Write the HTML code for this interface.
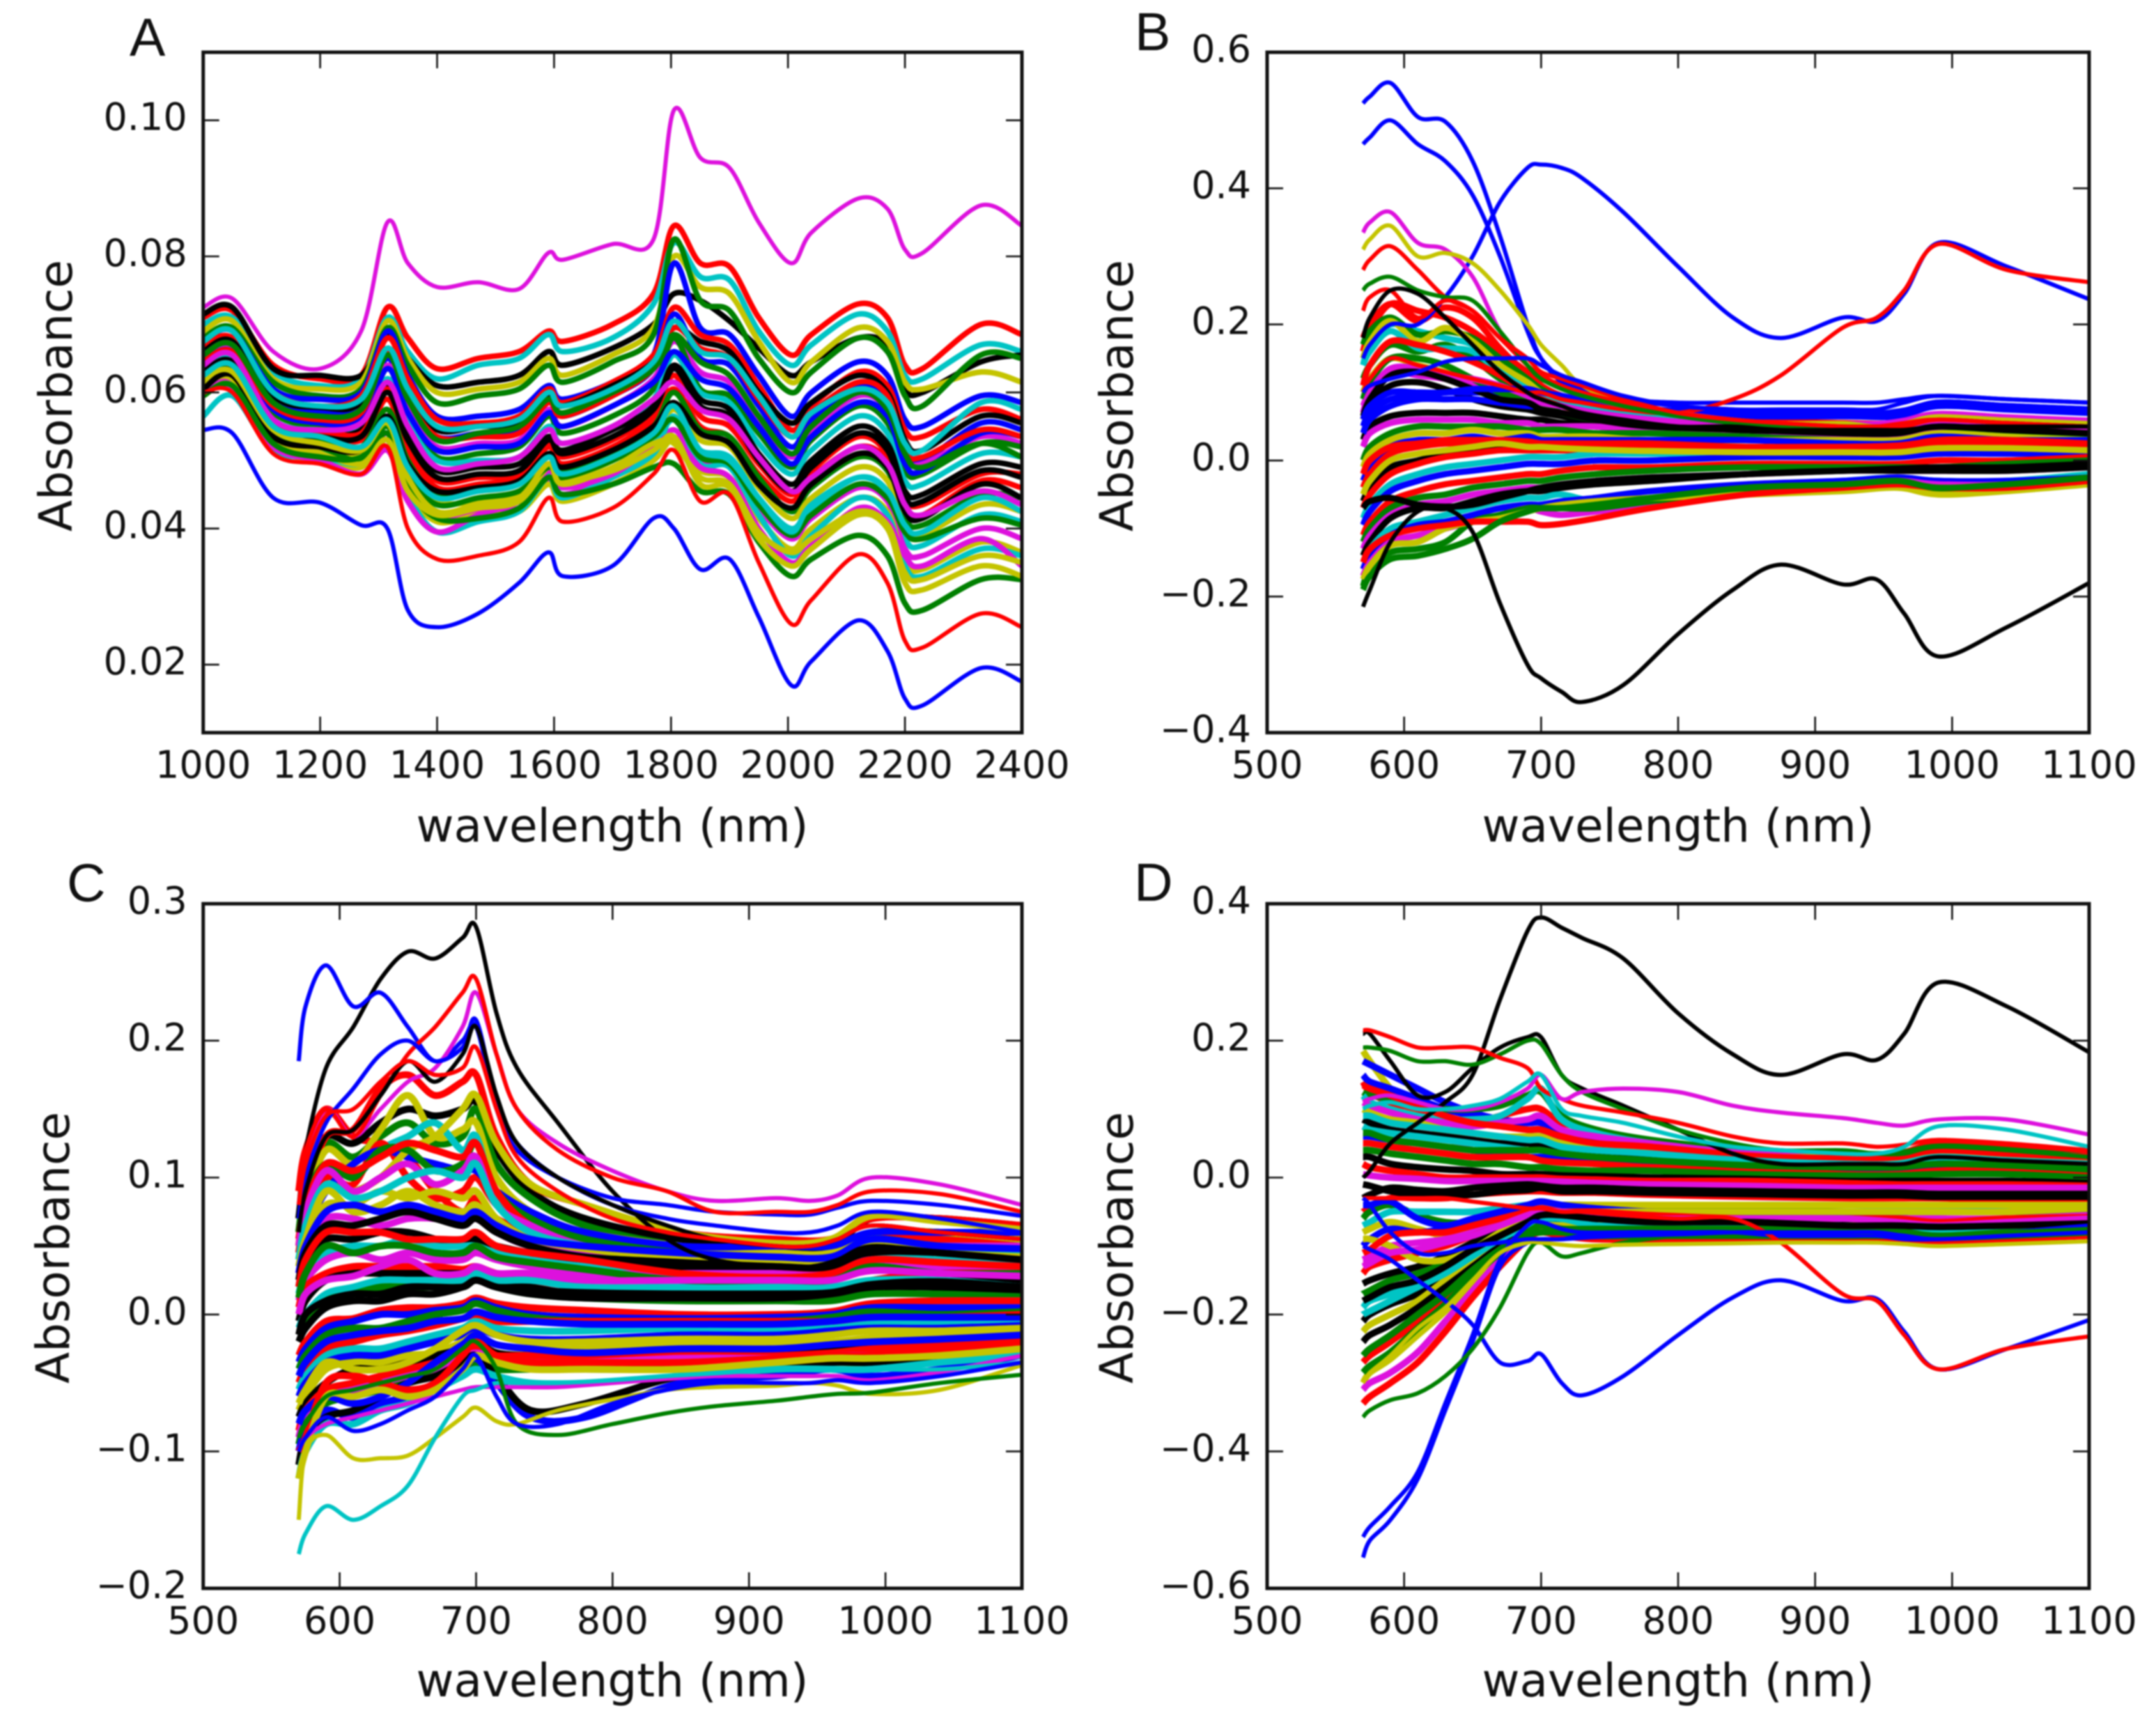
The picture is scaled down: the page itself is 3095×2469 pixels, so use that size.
<!DOCTYPE html>
<html lang="en">
<head>
<meta charset="utf-8">
<title>Absorbance spectra panels A-D</title>
<style>
html,body{margin:0;padding:0;background:#fff;}
#figure{display:block;filter:blur(1.1px);}
text{font-family:"DejaVu Sans","Liberation Sans",sans-serif;fill:#111;}
.panel-letter{font-family:"Liberation Sans",sans-serif;font-size:77px;}
.axis-title{font-size:66px;}
.tick-label{font-size:54px;}
</style>
</head>
<body>
<svg id="figure" xmlns="http://www.w3.org/2000/svg" width="3095" height="2469" viewBox="0 0 3095 2469">
<rect x="0" y="0" width="3095" height="2469" fill="#fff"/>
<defs>
<clipPath id="clip-a"><rect x="291.7" y="75" width="1175.3" height="976.7"/></clipPath>
<clipPath id="clip-b"><rect x="1819" y="75" width="1180" height="976.7"/></clipPath>
<clipPath id="clip-c"><rect x="291.7" y="1297.3" width="1175.3" height="982.7"/></clipPath>
<clipPath id="clip-d"><rect x="1819" y="1297.3" width="1180" height="982.7"/></clipPath>
</defs>
<g id="panel-a">
<text class="panel-letter" x="186" y="80">A</text>
<text class="axis-title" x="879" y="1208" text-anchor="middle">wavelength (nm)</text>
<text class="axis-title" transform="translate(103,568) rotate(-90)" text-anchor="middle">Absorbance</text>
</g>
<g id="panel-b">
<text class="panel-letter" x="1629" y="72">B</text>
<text class="axis-title" x="2409" y="1208" text-anchor="middle">wavelength (nm)</text>
<text class="axis-title" transform="translate(1626,568) rotate(-90)" text-anchor="middle">Absorbance</text>
</g>
<g id="panel-c">
<text class="panel-letter" x="96" y="1294">C</text>
<text class="axis-title" x="879" y="2435" text-anchor="middle">wavelength (nm)</text>
<text class="axis-title" transform="translate(99,1791) rotate(-90)" text-anchor="middle">Absorbance</text>
</g>
<g id="panel-d">
<text class="panel-letter" x="1628" y="1293">D</text>
<text class="axis-title" x="2409" y="2435" text-anchor="middle">wavelength (nm)</text>
<text class="axis-title" transform="translate(1626,1791) rotate(-90)" text-anchor="middle">Absorbance</text>
</g>
</svg>
<script>
const aWave=[1000,1050,1120,1200,1270,1315,1350,1400,1470,1540,1590,1615,1700,1770,1805,1850,1900,1950,2005,2040,2120,2170,2200,2230,2330,2400];
const aXTicks=[1000,1200,1400,1600,1800,2000,2200,2400];
const aXLabels=["1000","1200","1400","1600","1800","2000","2200","2400"];
const aYTicks=[0.02,0.04,0.06,0.08,0.10];
const aYLabels=["0.02","0.04","0.06","0.08","0.10"];
const aBundleColors="rckygbrkbmgckrrgycmycmgybkrgkcgymc";
const aBundle=[
[.071,.072,.064,.062,.0625,.0725,.068,.0635,.065,.066,.069,.0675,.070,.0745,.0845,.079,.0785,.071,.0655,.0685,.073,.071,.064,.0635,.070,.0685],
[.070,.071,.063,.061,.062,.071,.066,.062,.064,.065,.0685,.066,.068,.073,.082,.077,.0765,.069,.064,.067,.0715,.069,.0625,.062,.067,.066],
[.0715,.0725,.0635,.0625,.0625,.0685,.065,.061,.0615,.0625,.066,.064,.0665,.070,.0745,.0735,.0705,.0665,.0625,.0645,.068,.067,.0605,.060,.0645,.0655],
[.069,.0705,.062,.0605,.0615,.0705,.065,.060,.0605,.0615,.065,.0625,.0655,.0695,.080,.0755,.0745,.0675,.0615,.0645,.0695,.0675,.0615,.0605,.063,.0615],
[.068,.0695,.0615,.0595,.0605,.0695,.064,.0585,.0595,.0605,.064,.0615,.0645,.0685,.0825,.0735,.072,.065,.060,.063,.068,.066,.0595,.058,.0655,.065],
[.0675,.069,.0605,.059,.060,.069,.0625,.0565,.0565,.0575,.061,.059,.0615,.0655,.079,.0695,.0685,.0625,.0565,.060,.0645,.0625,.056,.055,.0595,.0585],
[.067,.068,.060,.058,.0595,.068,.062,.056,.0555,.0565,.0605,.0585,.0615,.0655,.0725,.0685,.067,.061,.0545,.058,.063,.061,.0545,.0535,.0575,.056],
[.066,.0675,.059,.0575,.0585,.0665,.060,.0545,.055,.0555,.0595,.058,.061,.0645,.0695,.0675,.066,.060,.0555,.0585,.0625,.060,.053,.0515,.0565,.0555],
[.0655,.067,.0585,.057,.0575,.065,.0585,.0535,.054,.0545,.059,.0565,.0595,.0635,.0715,.065,.064,.058,.052,.056,.061,.059,.052,.050,.0555,.0545],
[.065,.0665,.0575,.056,.0565,.064,.0575,.052,.0525,.053,.0575,.055,.058,.062,.0675,.063,.0615,.056,.0505,.0545,.0595,.0575,.0505,.0495,.0535,.0525],
[.064,.0655,.057,.055,.0555,.0635,.0565,.0505,.051,.052,.0565,.054,.0565,.0605,.068,.0605,.0595,.054,.049,.053,.058,.0555,.0485,.048,.0525,.052],
[.0635,.065,.056,.0545,.055,.062,.0555,.050,.050,.0505,.055,.0525,.055,.059,.0655,.060,.0585,.0525,.048,.0515,.0565,.054,.047,.0465,.051,.0505],
[.063,.0645,.0555,.054,.0545,.061,.054,.0485,.049,.0495,.0535,.0515,.0545,.058,.064,.059,.0575,.051,.0465,.050,.055,.0525,.0455,.045,.0495,.049],
[.0625,.064,.055,.0545,.054,.0605,.0525,.047,.0475,.048,.0525,.0505,.053,.057,.0625,.0565,.055,.0495,.045,.0485,.0535,.051,.0445,.0435,.048,.048],
[.062,.0635,.0545,.054,.053,.059,.0515,.046,.0465,.0475,.052,.0495,.052,.056,.0605,.055,.0535,.048,.044,.0475,.052,.050,.043,.042,.047,.046],
[.0615,.063,.054,.053,.052,.0575,.050,.045,.0455,.0465,.0505,.0485,.051,.055,.060,.0545,.0535,.0475,.0425,.046,.0505,.0485,.0415,.0405,.045,.0445],
[.061,.0625,.0535,.0515,.051,.056,.049,.044,.044,.045,.0495,.047,.050,.0535,.0575,.053,.052,.046,.0415,.0445,.049,.047,.040,.039,.0435,.0425],
[.0605,.062,.053,.051,.050,.0555,.048,.0425,.043,.044,.048,.046,.049,.0525,.056,.0515,.0505,.0445,.040,.043,.0475,.0455,.0385,.0375,.042,.041],
[.060,.0615,.0525,.0505,.049,.054,.0465,.042,.0425,.043,.047,.045,.0475,.051,.0545,.050,.049,.043,.0385,.0415,.046,.044,.037,.036,.040,.0385],
[.0595,.061,.052,.050,.049,.053,.0455,.041,.042,.0425,.0465,.044,.0465,.050,.053,.0485,.0475,.0415,.037,.040,.0445,.0425,.035,.034,.038,.0365],
[.0565,.0595,.0515,.0505,.0495,.053,.045,.0395,.041,.0425,.0475,.0445,.0475,.051,.0565,.0495,.049,.042,.036,.039,.0445,.042,.0345,.033,.037,.036],
[.060,.0605,.052,.050,.048,.0515,.044,.0395,.042,.044,.0485,.046,.048,.052,.0535,.049,.0475,.040,.035,.0375,.043,.041,.036,.0345,.0385,.0345],
[.0625,.063,.054,.052,.050,.054,.046,.0415,.0415,.043,.0475,.045,.0465,.049,.0495,.0455,.045,.038,.033,.0355,.039,.036,.029,.028,.0325,.0325],
[.061,.062,.053,.051,.0495,.053,.0455,.042,.043,.044,.049,.047,.0485,.0515,.0535,.0465,.046,.0385,.0345,.037,.042,.040,.032,.031,.0345,.033],
[.0645,.066,.0575,.0555,.056,.0635,.057,.0515,.052,.0525,.057,.055,.058,.0615,.066,.062,.0605,.055,.0495,.0535,.0585,.0565,.0495,.0485,.054,.0535],
[.0625,.064,.055,.0535,.0535,.060,.053,.0475,.048,.0485,.053,.051,.0535,.0575,.0635,.058,.0565,.050,.0455,.049,.054,.0515,.0445,.044,.0485,.0475],
[.0645,.066,.058,.056,.057,.066,.059,.0535,.0535,.054,.0585,.0565,.0595,.0635,.0695,.0665,.065,.059,.0535,.057,.0615,.0595,.0515,.0505,.0545,.0535],
[.0655,.067,.0585,.0565,.0575,.0655,.059,.053,.054,.055,.059,.057,.060,.0635,.0685,.0645,.0625,.0565,.051,.055,.060,.0575,.051,.049,.0525,.0505],
[.0605,.0625,.0535,.052,.0515,.0565,.0495,.0455,.046,.047,.051,.049,.0515,.055,.0585,.054,.0525,.0465,.043,.0465,.051,.049,.0425,.0415,.0465,.0445],
[.0675,.069,.060,.058,.059,.0665,.0605,.055,.055,.056,.060,.058,.0605,.0645,.0705,.066,.065,.0595,.0535,.057,.0605,.0585,.0525,.0515,.0585,.0575],
[.0595,.061,.0525,.0505,.0505,.055,.048,.0435,.0445,.0455,.049,.0475,.050,.0535,.056,.0505,.0495,.0435,.039,.042,.0465,.0445,.0395,.0385,.0415,.0405],
[.062,.063,.0545,.0525,.0515,.0555,.0475,.0425,.0435,.0445,.0495,.0465,.049,.0525,.0525,.0475,.0465,.0395,.0365,.0385,.0425,.0405,.0335,.0325,.036,.035],
[.064,.0655,.056,.0545,.0555,.0615,.055,.049,.0495,.0505,.0545,.0525,.055,.059,.0615,.0575,.056,.0505,.0455,.0475,.052,.0495,.0435,.042,.0455,.0435],
[.0625,.064,.055,.0535,.052,.056,.049,.0445,.0455,.0465,.0505,.048,.0505,.054,.058,.0515,.050,.0445,.0395,.0435,.0475,.0455,.0405,.0395,.0445,.0425]
];
const aOutlierColors="mbr";
const aOutliers=[
[.0725,.0738,.066,.0635,.069,.085,.079,.0755,.0762,.0752,.0805,.0795,.0818,.0825,.1015,.0945,.093,.085,.079,.0835,.0885,.087,.081,.0805,.0875,.0845],
[.0545,.054,.0445,.0438,.0405,.040,.028,.0255,.0275,.032,.0365,.033,.0345,.0415,.040,.034,.0355,.027,.017,.0205,.0265,.022,.015,.014,.0195,.0175],
[.060,.060,.051,.0495,.048,.052,.040,.0355,.036,.038,.0445,.041,.043,.048,.0515,.044,.045,.035,.026,.0295,.0362,.032,.0235,.0225,.0275,.0255]
];

const visWave=[570,575,590,610,630,650,670,690,700,715,740,780,850,920,960,990,1040,1100];
const outWave=[570,575,590,610,630,650,670,690,700,715,730,760,800,840,875,920,945,965,990,1040,1100];
const visXTicks=[500,600,700,800,900,1000,1100];
const visXLabels=["500","600","700","800","900","1000","1100"];

const bYTicks=[-0.4,-0.2,0,0.2,0.4,0.6];
const bYLabels=["\u22120.4","\u22120.2","0.0","0.2","0.4","0.6"];
const bBundleColors="rcgymkbkmgybrkrcbrgmkcbmgyrbrgycrgmkbkgry";
const bBundle=[
[.16,.19,.23,.22,.21,.19,.16,.13,.12,.11,.09,.075,.06,.055,.055,.065,.06,.055],
[.14,.17,.20,.19,.18,.17,.14,.11,.10,.09,.08,.065,.055,.05,.05,.06,.055,.05],
[.12,.14,.17,.16,.17,.15,.12,.10,.09,.08,.07,.06,.05,.05,.05,.055,.05,.05],
[.10,.12,.15,.14,.13,.12,.10,.09,.08,.07,.065,.055,.045,.045,.045,.055,.05,.045],
[.08,.10,.13,.125,.12,.11,.09,.08,.075,.07,.06,.05,.045,.04,.04,.05,.045,.045],
[.06,.085,.11,.115,.105,.09,.08,.075,.07,.065,.055,.05,.045,.04,.04,.05,.05,.05],
[.05,.07,.09,.095,.10,.10,.10,.10,.095,.09,.08,.07,.065,.065,.065,.08,.075,.07],
[.03,.05,.065,.07,.07,.07,.065,.06,.06,.055,.05,.045,.04,.04,.04,.05,.05,.05],
[.02,.04,.055,.06,.06,.06,.055,.055,.05,.05,.05,.045,.035,.035,.035,.045,.045,.04],
[0,.02,.04,.05,.05,.05,.05,.045,.045,.045,.04,.04,.035,.03,.03,.04,.04,.035],
[-.01,.01,.03,.04,.04,.045,.04,.04,.035,.035,.035,.03,.03,.03,.03,.04,.035,.03],
[-.03,-.01,.02,.03,.03,.035,.03,.035,.03,.03,.03,.03,.03,.025,.025,.035,.03,.03],
[-.04,-.02,.01,.02,.025,.025,.03,.025,.025,.025,.025,.025,.02,.02,.02,.03,.03,.025],
[-.06,-.04,-.01,0,.01,.015,.02,.02,.02,.02,.02,.02,.015,.015,.015,.025,.02,.02],
[-.07,-.05,-.02,-.005,.005,.01,.015,.015,.015,.015,.015,.015,.01,.015,.015,.025,.025,.02],
[-.085,-.065,-.035,-.02,-.01,-.005,0,.005,.005,.005,.01,.01,.01,.01,.01,.015,.015,.015],
[-.095,-.075,-.045,-.03,-.02,-.015,-.01,-.005,-.005,-.005,0,0,.005,.005,.005,.01,.01,.01],
[-.11,-.09,-.06,-.045,-.035,-.03,-.025,-.02,-.02,-.015,-.01,-.01,-.005,-.005,-.005,0,0,.005],
[-.12,-.10,-.07,-.055,-.05,-.04,-.035,-.03,-.03,-.025,-.02,-.015,-.01,-.01,-.01,-.01,-.005,0],
[-.13,-.11,-.08,-.065,-.06,-.05,-.045,-.04,-.04,-.035,-.03,-.025,-.02,-.015,-.015,-.015,-.015,-.01],
[-.14,-.12,-.085,-.07,-.07,-.06,-.05,-.045,-.045,-.04,-.035,-.03,-.02,-.015,-.015,-.015,-.015,-.01],
[-.15,-.13,-.10,-.09,-.08,-.07,-.06,-.055,-.055,-.05,-.06,-.06,-.04,-.03,-.025,-.03,-.03,-.02],
[-.16,-.14,-.11,-.095,-.09,-.08,-.07,-.065,-.065,-.06,-.055,-.045,-.035,-.03,-.025,-.03,-.03,-.025],
[-.17,-.15,-.12,-.11,-.10,-.09,-.08,-.07,-.075,-.08,-.075,-.065,-.045,-.035,-.03,-.035,-.035,-.025],
[-.185,-.16,-.135,-.13,-.12,-.09,-.08,-.07,-.07,-.07,-.07,-.06,-.045,-.04,-.035,-.045,-.04,-.03],
[-.175,-.155,-.125,-.12,-.10,-.09,-.085,-.075,-.07,-.065,-.06,-.055,-.05,-.045,-.04,-.05,-.045,-.035],
[-.15,-.13,-.11,-.10,-.095,-.09,-.09,-.09,-.095,-.093,-.085,-.07,-.05,-.04,-.035,-.04,-.04,-.03],
[.04,.06,.08,.09,.09,.09,.085,.08,.08,.08,.075,.07,.07,.07,.07,.085,.08,.075],
[.18,.2,.23,.205,.225,.21,.165,.125,.11,.095,.08,.07,.055,.05,.05,.06,.055,.05],
[.17,.19,.21,.185,.19,.18,.15,.12,.105,.09,.075,.065,.055,.05,.05,.06,.055,.05],
[.15,.175,.205,.175,.195,.175,.14,.115,.10,.09,.08,.065,.055,.05,.05,.06,.055,.05],
[.14,.16,.19,.165,.165,.16,.13,.105,.095,.085,.075,.065,.055,.05,.05,.055,.05,.05],
[.11,.14,.175,.17,.16,.145,.125,.10,.09,.08,.07,.06,.05,.045,.045,.055,.05,.045],
[.09,.115,.15,.15,.14,.12,.10,.09,.08,.07,.06,.055,.045,.045,.045,.05,.05,.045],
[.07,.10,.135,.135,.125,.12,.11,.095,.085,.08,.07,.06,.05,.045,.045,.055,.05,.045],
[.065,.09,.125,.13,.12,.105,.09,.085,.075,.07,.06,.05,.045,.04,.04,.05,.045,.04],
[.06,.08,.10,.10,.10,.105,.105,.105,.10,.095,.085,.075,.07,.07,.07,.085,.08,.075],
[-.07,-.06,-.055,-.065,-.068,-.065,-.055,-.045,-.04,-.035,-.03,-.025,-.02,-.015,-.012,-.01,-.01,-.005],
[-.19,-.17,-.145,-.14,-.13,-.115,-.09,-.075,-.07,-.07,-.065,-.055,-.04,-.035,-.03,-.04,-.035,-.025],
[-.02,0,.02,.025,.03,.03,.03,.028,.025,.024,.022,.022,.02,.02,.022,.028,.025,.022],
[-.05,-.03,0,.01,.015,.02,.025,.02,.02,.018,.016,.014,.012,.012,.012,.018,.018,.015]
];
const bOutlierColors="bbbrkmyrgrkb";
const bOutliers=[
[.525,.535,.555,.505,.498,.44,.33,.20,.15,.115,.105,.09,.085,.085,.085,.085,.085,.09,.095,.09,.085],
[.465,.475,.50,.465,.44,.39,.30,.19,.15,.12,.105,.09,.08,.075,.075,.075,.075,.085,.095,.09,.085],
[.15,.17,.20,.20,.24,.30,.38,.43,.435,.43,.415,.365,.285,.21,.18,.21,.205,.245,.32,.285,.237],
[.10,.12,.15,.14,.13,.12,.11,.10,.10,.09,.085,.075,.07,.09,.125,.195,.21,.25,.318,.28,.262],
[-.215,-.19,-.12,-.075,-.07,-.105,-.21,-.30,-.32,-.34,-.355,-.33,-.255,-.19,-.153,-.182,-.175,-.225,-.288,-.245,-.18],
[.335,.35,.365,.32,.31,.27,.19,.14,.12,.105,.095,.08,.07,.06,.055,.055,.055,.06,.07,.065,.06],
[.31,.325,.345,.30,.305,.29,.25,.20,.17,.14,.11,.085,.07,.06,.055,.055,.05,.055,.065,.06,.055],
[.28,.295,.315,.28,.24,.22,.18,.14,.125,.11,.10,.085,.07,.06,.055,.05,.05,.055,.06,.055,.05],
[.25,.26,.27,.25,.24,.235,.19,.14,.12,.105,.095,.08,.065,.055,.05,.05,.05,.05,.06,.055,.05],
[.22,.24,.25,.21,.235,.22,.18,.15,.13,.12,.11,.09,.07,.06,.055,.05,.05,.05,.06,.055,.05],
[.18,.21,.25,.245,.21,.17,.13,.10,.09,.08,.07,.06,.05,.05,.045,.045,.045,.045,.05,.05,.05],
[.10,.11,.12,.13,.145,.15,.15,.15,.14,.125,.115,.095,.08,.075,.07,.07,.07,.075,.085,.08,.075]
];

const cYTicks=[-0.2,-0.1,0,0.1,0.2,0.3];
const cYLabels=["\u22120.2","\u22120.1","0.0","0.1","0.2","0.3"];
const cBundleColors="rkgrycrbymkcmrkcgkrbgrcbykrmgbkcygrmcybkrgmbybryk";
const cBundle=[
[.09,.12,.15,.13,.125,.115,.09,.075,.085,.07,.06,.055,.045,.04,.04,.055,.055,.05],
[.07,.10,.13,.125,.14,.15,.145,.15,.155,.12,.09,.07,.055,.05,.05,.07,.07,.065],
[.06,.09,.125,.115,.13,.14,.125,.13,.15,.11,.085,.065,.05,.045,.045,.06,.06,.055],
[.05,.085,.13,.135,.165,.175,.16,.17,.175,.13,.095,.08,.06,.055,.055,.07,.07,.065],
[.05,.08,.12,.11,.135,.16,.13,.135,.14,.10,.075,.06,.05,.045,.045,.06,.06,.055],
[.045,.07,.11,.10,.12,.13,.14,.12,.13,.085,.07,.055,.045,.04,.04,.05,.05,.05],
[.045,.07,.10,.095,.125,.10,.085,.09,.10,.08,.06,.05,.04,.035,.04,.05,.045,.045],
[.04,.06,.09,.11,.12,.115,.11,.105,.105,.09,.075,.06,.05,.05,.05,.06,.06,.06],
[.035,.055,.08,.08,.09,.085,.09,.085,.09,.07,.055,.045,.04,.04,.04,.055,.05,.05],
[.03,.05,.07,.07,.065,.07,.07,.065,.07,.06,.05,.045,.04,.035,.035,.05,.045,.045],
[.02,.04,.055,.055,.06,.06,.055,.05,.055,.05,.045,.04,.035,.03,.03,.045,.04,.04],
[.015,.03,.045,.05,.05,.055,.05,.05,.05,.045,.04,.035,.03,.03,.03,.04,.04,.035],
[.01,.025,.04,.045,.04,.045,.04,.04,.045,.04,.035,.03,.03,.03,.03,.04,.035,.035],
[.005,.02,.03,.035,.035,.035,.035,.033,.035,.03,.025,.02,.015,.012,.015,.025,.03,.03],
[-.005,.01,.025,.03,.03,.03,.03,.03,.03,.025,.02,.015,.015,.015,.015,.02,.025,.025],
[-.01,0,.015,.02,.025,.025,.025,.025,.03,.025,.025,.02,.02,.02,.02,.025,.025,.02],
[-.015,-.005,.01,.015,.02,.02,.02,.02,.025,.02,.015,.012,.01,.01,.01,.015,.015,.015],
[-.02,-.01,.005,.01,.01,.015,.015,.02,.025,.02,.015,.012,.012,.012,.015,.02,.02,.018],
[-.03,-.02,-.005,-.003,.003,.005,.005,.008,.012,.008,.005,.003,0,0,.002,.008,.01,.01],
[-.035,-.025,-.01,-.005,0,0,.003,.005,.01,.005,0,-.002,-.003,-.002,0,.005,.005,.005],
[-.04,-.03,-.015,-.01,-.01,-.005,0,.003,.008,.003,-.002,-.005,-.005,-.005,-.002,.002,0,.002],
[-.05,-.04,-.025,-.02,-.015,-.012,-.008,-.003,0,-.005,-.005,-.005,-.005,-.005,-.005,-.002,-.002,0],
[-.055,-.045,-.03,-.025,-.025,-.02,-.015,-.01,-.005,-.01,-.012,-.012,-.01,-.01,-.01,-.007,-.006,-.005],
[-.06,-.05,-.035,-.03,-.03,-.025,-.02,-.015,-.01,-.015,-.018,-.018,-.015,-.015,-.012,-.01,-.01,-.008],
[-.07,-.06,-.04,-.035,-.035,-.03,-.028,-.02,-.015,-.022,-.025,-.025,-.022,-.02,-.02,-.017,-.015,-.012],
[-.075,-.065,-.05,-.04,-.04,-.035,-.03,-.025,-.02,-.028,-.03,-.03,-.028,-.028,-.025,-.022,-.02,-.015],
[-.085,-.07,-.055,-.05,-.045,-.04,-.035,-.03,-.025,-.03,-.03,-.032,-.03,-.03,-.028,-.025,-.022,-.018],
[-.09,-.075,-.06,-.055,-.05,-.045,-.04,-.032,-.028,-.032,-.035,-.035,-.032,-.032,-.03,-.03,-.028,-.022],
[-.095,-.08,-.065,-.06,-.055,-.05,-.045,-.04,-.035,-.04,-.04,-.04,-.04,-.038,-.035,-.035,-.03,-.025],
[-.10,-.085,-.07,-.075,-.065,-.06,-.05,-.04,-.032,-.05,-.075,-.075,-.05,-.045,-.04,-.045,-.04,-.03],
[-.11,-.09,-.075,-.07,-.06,-.05,-.045,-.035,-.03,-.045,-.07,-.065,-.045,-.04,-.035,-.035,-.032,-.025],
[-.12,-.10,-.08,-.08,-.07,-.065,-.055,-.045,-.04,-.045,-.05,-.05,-.045,-.04,-.04,-.04,-.035,-.03],
[.04,.06,.09,.09,.10,.12,.13,.15,.16,.125,.095,.08,.06,.052,.055,.072,.068,.062],
[.06,.085,.11,.10,.12,.12,.105,.11,.125,.09,.07,.055,.045,.04,.04,.055,.05,.05],
[.055,.08,.11,.105,.115,.125,.12,.115,.125,.09,.065,.05,.04,.035,.035,.05,.05,.045],
[.05,.075,.105,.09,.10,.11,.095,.105,.115,.08,.065,.05,.04,.04,.04,.05,.05,.05],
[.04,.065,.095,.085,.09,.10,.105,.10,.11,.08,.06,.05,.042,.038,.04,.05,.048,.045],
[.035,.055,.09,.075,.08,.09,.08,.075,.08,.065,.055,.048,.04,.038,.038,.05,.045,.042],
[.03,.05,.075,.08,.075,.08,.075,.07,.075,.065,.055,.05,.045,.042,.042,.055,.05,.048],
[.025,.045,.065,.065,.07,.075,.07,.065,.07,.06,.05,.042,.038,.035,.035,.048,.045,.04],
[.02,.04,.06,.06,.06,.055,.055,.055,.06,.05,.045,.04,.03,.027,.03,.04,.038,.035],
[.012,.03,.05,.045,.05,.05,.045,.045,.05,.042,.038,.033,.025,.025,.025,.035,.03,.03],
[0,.015,.025,.028,.035,.04,.03,.03,.035,.03,.03,.025,.025,.025,.025,.032,.03,.028],
[-.045,-.035,-.02,-.015,-.012,-.01,-.005,-.003,.002,-.002,-.005,-.007,-.007,-.007,-.005,-.002,-.002,-.002],
[-.065,-.055,-.035,-.04,-.04,-.035,-.025,-.012,-.008,-.015,-.02,-.02,-.018,-.018,-.015,-.012,-.012,-.01],
[-.08,-.07,-.06,-.065,-.06,-.05,-.035,-.022,-.015,-.022,-.025,-.028,-.025,-.025,-.022,-.02,-.018,-.015],
[-.10,-.09,-.05,-.045,-.05,-.055,-.05,-.03,-.02,-.03,-.035,-.035,-.035,-.032,-.03,-.03,-.025,-.022],
[-.12,-.10,-.06,-.06,-.055,-.06,-.055,-.04,-.03,-.035,-.04,-.04,-.04,-.035,-.032,-.032,-.03,-.025],
[-.015,0,.01,.015,.015,.02,.02,.02,.025,.02,.018,.016,.015,.015,.016,.022,.024,.02]
];
const cOutlierColors="kbmrmycgbbkr";
const cOutliers=[
[.08,.12,.18,.21,.245,.265,.26,.275,.283,.22,.18,.14,.09,.055,.04,.035,.035,.04,.05,.045,.04],
[.185,.225,.255,.225,.235,.21,.185,.20,.21,.15,.12,.10,.085,.08,.075,.073,.073,.078,.083,.08,.072],
[.08,.11,.15,.13,.15,.17,.18,.21,.235,.19,.15,.125,.105,.09,.083,.085,.083,.087,.10,.095,.08],
[.09,.12,.15,.13,.16,.19,.21,.235,.245,.19,.15,.12,.10,.09,.075,.075,.075,.08,.09,.088,.075],
[-.10,-.09,-.08,-.075,-.07,-.065,-.06,-.055,-.053,-.053,-.053,-.053,-.05,-.047,-.045,-.045,-.045,-.045,-.048,-.042,-.03],
[-.15,-.10,-.088,-.105,-.105,-.103,-.09,-.075,-.068,-.078,-.08,-.07,-.062,-.055,-.053,-.052,-.05,-.052,-.058,-.055,-.037],
[-.175,-.16,-.14,-.15,-.14,-.125,-.09,-.06,-.055,-.05,-.05,-.05,-.048,-.045,-.043,-.04,-.04,-.04,-.04,-.04,-.035],
[-.09,-.08,-.06,-.055,-.05,-.045,-.04,-.025,-.02,-.04,-.08,-.088,-.08,-.072,-.067,-.063,-.06,-.058,-.057,-.05,-.044],
[-.10,-.09,-.075,-.085,-.08,-.07,-.06,-.04,-.03,-.06,-.08,-.08,-.065,-.055,-.05,-.05,-.05,-.048,-.05,-.045,-.035],
[.07,.10,.14,.165,.19,.20,.185,.195,.215,.155,.125,.10,.08,.07,.065,.06,.06,.065,.075,.07,.06],
[.06,.09,.13,.135,.16,.185,.17,.19,.21,.16,.125,.10,.08,.065,.055,.05,.05,.055,.065,.06,.055],
[.08,.11,.145,.15,.17,.185,.175,.18,.195,.15,.115,.09,.07,.06,.055,.05,.05,.055,.065,.06,.055]
];

const dYTicks=[-0.6,-0.4,-0.2,0,0.2,0.4];
const dYLabels=["\u22120.6","\u22120.4","\u22120.2","0.0","0.2","0.4"];
const dBundleColors="ybrbgcmykcbrgkrmkrgcybmrkgckykrymrrcgkbyrmcggk";
const dBundle=[
[.185,.17,.13,.09,.06,.04,.04,.05,.05,.04,.035,.03,.02,.02,.02,.03,.03,.025],
[.17,.165,.15,.13,.11,.095,.085,.08,.08,.065,.055,.045,.03,.025,.025,.03,.03,.02],
[.14,.125,.11,.10,.09,.08,.09,.10,.10,.08,.07,.05,.04,.035,.035,.05,.045,.035],
[.15,.14,.13,.115,.10,.09,.08,.07,.07,.055,.05,.04,.025,.02,.02,.025,.025,.015],
[.125,.12,.115,.105,.10,.10,.105,.12,.125,.09,.07,.055,.04,.035,.035,.045,.04,.03],
[.12,.11,.10,.09,.085,.085,.09,.115,.13,.085,.065,.05,.035,.03,.03,.04,.035,.025],
[.11,.105,.095,.085,.08,.075,.08,.085,.09,.07,.06,.05,.035,.03,.03,.04,.035,.03],
[.10,.095,.085,.08,.07,.065,.06,.06,.06,.05,.045,.04,.03,.03,.028,.035,.03,.025],
[.085,.08,.07,.065,.06,.055,.05,.05,.045,.04,.035,.03,.02,.015,.015,.02,.02,.015],
[.075,.07,.065,.06,.055,.05,.045,.04,.04,.035,.03,.025,.02,.015,.015,.02,.018,.012],
[.06,.06,.055,.05,.045,.04,.035,.03,.03,.028,.025,.02,.012,.01,.01,.012,.01,.008],
[.05,.05,.045,.04,.035,.03,.03,.03,.025,.022,.02,.015,.01,.005,.005,.01,.01,.005],
[.04,.04,.035,.03,.025,.02,.02,.015,.015,.012,.01,.01,.005,.003,.003,.005,.005,0],
[.03,.03,.02,.015,.012,.01,.005,.005,.005,.003,.002,0,-.002,-.005,-.005,-.005,-.005,-.008],
[.02,.015,.01,.005,0,0,0,0,0,-.002,-.003,-.005,-.005,-.008,-.01,-.01,-.01,-.012],
[.005,.003,0,-.002,-.005,-.005,-.005,-.005,-.005,-.006,-.008,-.01,-.012,-.015,-.015,-.015,-.015,-.015],
[-.03,-.025,-.015,-.018,-.02,-.015,-.012,-.01,-.012,-.015,-.015,-.018,-.02,-.022,-.022,-.024,-.024,-.024],
[-.05,-.045,-.03,-.03,-.03,-.025,-.022,-.02,-.02,-.022,-.022,-.025,-.028,-.03,-.03,-.03,-.032,-.032],
[-.06,-.05,-.04,-.055,-.065,-.065,-.055,-.045,-.04,-.045,-.045,-.045,-.048,-.05,-.05,-.05,-.05,-.05],
[-.07,-.065,-.05,-.05,-.05,-.05,-.045,-.04,-.04,-.04,-.04,-.04,-.04,-.04,-.042,-.045,-.045,-.042],
[-.08,-.075,-.065,-.075,-.085,-.08,-.065,-.05,-.045,-.04,-.04,-.04,-.04,-.04,-.04,-.04,-.04,-.04],
[-.10,-.09,-.075,-.08,-.075,-.07,-.06,-.05,-.045,-.05,-.05,-.05,-.055,-.055,-.058,-.065,-.062,-.058],
[-.12,-.115,-.10,-.095,-.09,-.08,-.065,-.05,-.045,-.05,-.055,-.055,-.055,-.06,-.06,-.06,-.06,-.055],
[-.14,-.13,-.12,-.11,-.10,-.085,-.07,-.055,-.05,-.055,-.06,-.06,-.06,-.06,-.062,-.07,-.065,-.065],
[-.155,-.15,-.14,-.13,-.115,-.095,-.075,-.055,-.05,-.05,-.055,-.06,-.06,-.065,-.065,-.07,-.068,-.065],
[-.17,-.165,-.15,-.14,-.125,-.105,-.08,-.06,-.055,-.06,-.065,-.068,-.07,-.07,-.07,-.075,-.075,-.07],
[-.19,-.18,-.17,-.155,-.135,-.11,-.09,-.07,-.06,-.065,-.07,-.07,-.07,-.075,-.078,-.085,-.08,-.075],
[-.21,-.2,-.185,-.17,-.145,-.115,-.09,-.07,-.06,-.06,-.065,-.07,-.07,-.07,-.075,-.08,-.075,-.07],
[-.225,-.215,-.2,-.18,-.15,-.125,-.095,-.075,-.07,-.07,-.07,-.07,-.07,-.07,-.07,-.075,-.072,-.07],
[-.24,-.23,-.215,-.19,-.16,-.13,-.10,-.075,-.07,-.075,-.08,-.08,-.08,-.08,-.08,-.08,-.08,-.078],
[-.27,-.26,-.24,-.21,-.175,-.14,-.105,-.08,-.07,-.075,-.08,-.08,-.08,-.08,-.082,-.09,-.085,-.08],
[-.30,-.285,-.265,-.23,-.195,-.155,-.115,-.085,-.075,-.08,-.085,-.085,-.085,-.085,-.085,-.09,-.085,-.08],
[-.31,-.30,-.285,-.255,-.21,-.165,-.12,-.08,-.07,-.075,-.08,-.08,-.08,-.08,-.08,-.085,-.08,-.078],
[-.33,-.32,-.30,-.27,-.225,-.175,-.13,-.09,-.08,-.085,-.09,-.09,-.09,-.09,-.09,-.095,-.09,-.085],
[.135,.13,.12,.105,.09,.08,.075,.07,.07,.06,.05,.045,.032,.028,.03,.04,.035,.03],
[.09,.09,.08,.075,.07,.065,.06,.055,.055,.045,.04,.035,.025,.02,.02,.03,.025,.02],
[.065,.065,.055,.05,.045,.04,.04,.04,.04,.035,.03,.025,.018,.015,.015,.02,.018,.012],
[-.01,-.012,-.02,-.025,-.025,-.025,-.02,-.018,-.015,-.02,-.02,-.022,-.024,-.026,-.026,-.028,-.028,-.028],
[-.04,-.04,-.035,-.06,-.07,-.06,-.05,-.04,-.035,-.04,-.045,-.05,-.055,-.055,-.06,-.07,-.065,-.06],
[-.09,-.09,-.10,-.12,-.12,-.105,-.08,-.06,-.05,-.05,-.05,-.05,-.05,-.05,-.05,-.05,-.05,-.045],
[-.11,-.105,-.085,-.08,-.08,-.07,-.06,-.05,-.045,-.05,-.05,-.055,-.06,-.06,-.06,-.065,-.06,-.058],
[-.13,-.125,-.11,-.105,-.095,-.085,-.07,-.055,-.05,-.05,-.055,-.06,-.06,-.06,-.065,-.07,-.065,-.06],
[-.20,-.195,-.18,-.16,-.14,-.115,-.09,-.07,-.06,-.06,-.07,-.07,-.07,-.07,-.075,-.08,-.078,-.072],
[-.26,-.25,-.23,-.20,-.17,-.135,-.105,-.08,-.07,-.075,-.075,-.075,-.075,-.075,-.078,-.085,-.08,-.075],
[-.285,-.275,-.255,-.22,-.185,-.145,-.11,-.085,-.08,-.08,-.085,-.085,-.085,-.085,-.085,-.088,-.085,-.08],
[-.18,-.175,-.16,-.15,-.13,-.105,-.085,-.065,-.055,-.055,-.06,-.065,-.065,-.07,-.07,-.072,-.07,-.067]
];
const dOutlierColors="kkgrmcbbbrgyb";
const dOutliers=[
[0,.01,.05,.08,.11,.15,.26,.36,.38,.365,.35,.32,.24,.18,.15,.18,.172,.21,.285,.25,.183],
[.21,.21,.17,.12,.125,.16,.19,.205,.205,.15,.13,.105,.07,.035,.02,.02,.02,.02,.03,.025,.02],
[.19,.19,.185,.17,.17,.165,.18,.20,.195,.15,.125,.10,.07,.05,.04,.04,.035,.035,.045,.04,.03],
[.215,.215,.205,.19,.19,.19,.175,.16,.13,.115,.105,.095,.08,.06,.05,.05,.045,.048,.055,.05,.04],
[.11,.115,.12,.11,.10,.10,.11,.13,.15,.115,.125,.13,.125,.105,.095,.087,.08,.076,.085,.085,.063],
[.10,.105,.11,.10,.10,.105,.115,.14,.15,.10,.09,.08,.06,.045,.04,.035,.035,.045,.075,.07,.045],
[-.525,-.51,-.48,-.43,-.33,-.23,-.12,-.07,-.065,-.075,-.08,-.08,-.08,-.08,-.08,-.08,-.08,-.08,-.085,-.08,-.07],
[-.555,-.53,-.50,-.44,-.34,-.24,-.13,-.095,-.09,-.09,-.085,-.08,-.08,-.08,-.085,-.085,-.085,-.09,-.09,-.085,-.075],
[-.10,-.105,-.12,-.15,-.18,-.215,-.27,-.268,-.258,-.30,-.318,-.29,-.23,-.175,-.15,-.18,-.177,-.225,-.28,-.25,-.208],
[-.03,-.03,-.03,-.03,-.03,-.035,-.04,-.045,-.045,-.05,-.05,-.055,-.06,-.06,-.095,-.17,-.18,-.23,-.28,-.25,-.232],
[-.35,-.34,-.325,-.315,-.29,-.25,-.19,-.11,-.095,-.115,-.11,-.095,-.085,-.08,-.08,-.08,-.08,-.08,-.085,-.08,-.075],
[-.30,-.285,-.26,-.22,-.19,-.15,-.11,-.095,-.095,-.098,-.10,-.098,-.097,-.096,-.095,-.095,-.095,-.097,-.10,-.097,-.093],
[-.03,-.04,-.08,-.11,-.11,-.10,-.095,-.09,-.09,-.09,-.088,-.085,-.083,-.08,-.08,-.08,-.08,-.085,-.09,-.085,-.08]
];

const SVG_NS="http://www.w3.org/2000/svg";
const palette={b:"#0000ff",g:"#008000",r:"#ff0000",c:"#00c4c4",m:"#dd11dd",y:"#c4c400",k:"#000000"};

function linearScale(d0,d1,r0,r1){
  return function(v){return r0+(v-d0)*(r1-r0)/(d1-d0);};
}
function smoothPath(px,py){
  let d="M"+px[0].toFixed(1)+" "+py[0].toFixed(1);
  const n=px.length;
  for(let i=0;i<n-1;i++){
    const a=Math.max(i-1,0),b=Math.min(i+2,n-1);
    const c1x=px[i]+(px[i+1]-px[a])/6,c1y=py[i]+(py[i+1]-py[a])/6;
    const c2x=px[i+1]-(px[b]-px[i])/6,c2y=py[i+1]-(py[b]-py[i])/6;
    d+="C"+c1x.toFixed(1)+" "+c1y.toFixed(1)+" "+c2x.toFixed(1)+" "+c2y.toFixed(1)+" "+px[i+1].toFixed(1)+" "+py[i+1].toFixed(1);
  }
  return d;
}
function drawSeries(group,wave,values,color,width,x,y){
  const p=document.createElementNS(SVG_NS,"path");
  p.setAttribute("d",smoothPath(wave.map(x),values.map(y)));
  p.setAttribute("fill","none");
  p.setAttribute("stroke",palette[color]);
  p.setAttribute("stroke-width",width);
  p.setAttribute("stroke-linejoin","round");
  
  
  group.appendChild(p);
}
function drawTick(group,x1,y1,x2,y2){
  const t=document.createElementNS(SVG_NS,"line");
  t.setAttribute("x1",x1);
  t.setAttribute("y1",y1);
  t.setAttribute("x2",x2);
  t.setAttribute("y2",y2);
  t.setAttribute("stroke","#111");
  t.setAttribute("stroke-width","2.6");
  
  
  group.appendChild(t);
}
function drawLabel(group,x,y,anchor,str){
  const t=document.createElementNS(SVG_NS,"text");
  t.setAttribute("x",x);
  t.setAttribute("y",y);
  t.setAttribute("text-anchor",anchor);
  t.setAttribute("class","tick-label");
  
  
  t.textContent=str;
  group.appendChild(t);
}
function drawPanel(id,box,xDomain,yDomain,xTicks,xLabels,yTicks,yLabels,bundleWave,bundle,bundleColors,bundleWidth,outlierWave,outliers,outlierColors){
  const g=document.getElementById("panel-"+id);
  const x=linearScale(xDomain[0],xDomain[1],box.left,box.right);
  const y=linearScale(yDomain[0],yDomain[1],box.bottom,box.top);
  const lines=document.createElementNS(SVG_NS,"g");
  lines.setAttribute("clip-path","url(#clip-"+id+")");
  
  
  g.appendChild(lines);
  bundle.forEach(function(v,i){drawSeries(lines,bundleWave,v,bundleColors[i%bundleColors.length],bundleWidth,x,y);});
  outliers.forEach(function(v,i){drawSeries(lines,outlierWave,v,outlierColors[i%outlierColors.length],6,x,y);});
  xTicks.forEach(function(v,i){
    const px=x(v);
    drawTick(g,px,box.bottom,px,box.bottom-23);
    drawTick(g,px,box.top,px,box.top+23);
    drawLabel(g,px,box.bottom+65,"middle",xLabels[i]);
  });
  yTicks.forEach(function(v,i){
    const py=y(v);
    drawTick(g,box.left,py,box.left+23,py);
    drawTick(g,box.right,py,box.right-23,py);
    drawLabel(g,box.left-23,py+14,"end",yLabels[i]);
  });
  const frame=document.createElementNS(SVG_NS,"rect");
  frame.setAttribute("x",box.left);
  frame.setAttribute("y",box.top);
  frame.setAttribute("width",box.right-box.left);
  frame.setAttribute("height",box.bottom-box.top);
  frame.setAttribute("fill","none");
  frame.setAttribute("stroke","#111");
  frame.setAttribute("stroke-width","5");
  
  
  g.appendChild(frame);
}
drawPanel("a",{left:291.7,right:1467,top:75,bottom:1051.7},[1000,2400],[0.01,0.11],aXTicks,aXLabels,aYTicks,aYLabels,aWave,aBundle,aBundleColors,8,aWave,aOutliers,aOutlierColors);
drawPanel("b",{left:1819,right:2999,top:75,bottom:1051.7},[500,1100],[-0.4,0.6],visXTicks,visXLabels,bYTicks,bYLabels,visWave,bBundle,bBundleColors,9,outWave,bOutliers,bOutlierColors);
drawPanel("c",{left:291.7,right:1467,top:1297.3,bottom:2280},[500,1100],[-0.2,0.3],visXTicks,visXLabels,cYTicks,cYLabels,visWave,cBundle,cBundleColors,10,outWave,cOutliers,cOutlierColors);
drawPanel("d",{left:1819,right:2999,top:1297.3,bottom:2280},[500,1100],[-0.6,0.4],visXTicks,visXLabels,dYTicks,dYLabels,visWave,dBundle,dBundleColors,9.5,outWave,dOutliers,dOutlierColors);
</script>
</body>
</html>
